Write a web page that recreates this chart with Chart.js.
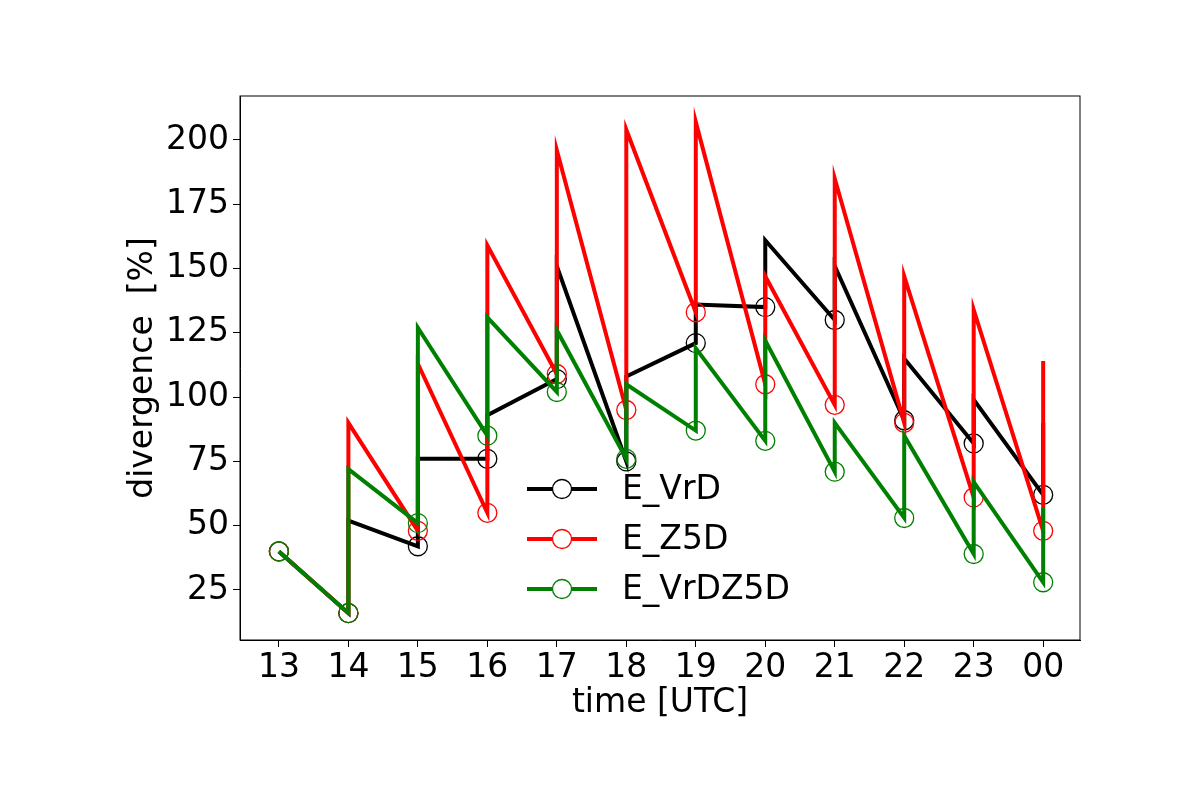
<!DOCTYPE html>
<html><head><meta charset="utf-8">
<script src="https://cdn.jsdelivr.net/npm/chart.js@4"></script>
<style>body{margin:0;background:#fff}</style></head>
<body><div style="width:1200px;height:800px"><canvas id="c"></canvas></div>
<script>
const hours = ['13','14','15','16','17','18','19','20','21','22','23','00'];
// value at each hour (end of previous forecast, marked with circle)
const vrdMark  = [40,16,42,76,107,75,121,135,130,91,82,62];
// value right after the jump at each hour (new forecast start), hours 14..00
const vrdJump  = [52,76,93,151,108,136,161,151,115,99,90];
const z5dMark  = [40,16,48,55,109,95,133,105,97,90,61,48];
const z5dJump  = [90,113,159,196,204,207,147,185,147,134,114];
const vrdz5dMark = [40,16,51,85,102,76,87,83,71,53,39,28];
const vrdz5dJump = [72,127,131,126,105,119,122,90,85,67,57];

function build(mark, jump){
  const pts=[{x:0,y:mark[0],m:true}];
  for(let h=1;h<mark.length;h++){
    pts.push({x:h,y:mark[h],m:true});
    pts.push({x:h,y:jump[h-1],m:false});
  }
  return pts;
}
function ds(label,color,mark,jump,order){
  return {label,data:build(mark,jump),borderColor:color,backgroundColor:'rgba(0,0,0,0)',
    borderWidth:4,pointRadius:c=>c.raw&&c.raw.m?9.5:0,pointBorderColor:color,pointBorderWidth:1.3,
    pointBackgroundColor:'rgba(0,0,0,0)',tension:0,order};
}
const series=[ds('E_VrD','#000000',vrdMark,vrdJump,3),ds('E_Z5D','#ff0000',z5dMark,z5dJump,2),ds('E_VrDZ5D','#008000',vrdz5dMark,vrdz5dJump,1)];
const font={family:'DejaVu Sans',size:33};
const frame={id:'frame',afterDraw(ch){const a=ch.chartArea,x=ch.ctx;x.save();x.strokeStyle='#000';x.lineWidth=1;
  x.strokeRect(a.left,a.top,a.right-a.left,a.bottom-a.top);
  x.font='33px DejaVu Sans';x.fillStyle='#000';x.textAlign='center';x.textBaseline='middle';
  x.fillText('time [UTC]',(a.left+a.right)/2,703);
  x.save();x.translate(143,368);x.rotate(-Math.PI/2);x.fillText('divergence  [%]',0,0);x.restore();
  x.textAlign='left';
  const rows=[[489,series[0]],[539,series[1]],[589,series[2]]];
  for(const [y,s] of rows){x.strokeStyle=s.borderColor;x.lineWidth=4;x.beginPath();x.moveTo(527,y);x.lineTo(597,y);x.stroke();
    x.lineWidth=1.3;x.beginPath();x.arc(562,y,9.5,0,Math.PI*2);x.fillStyle='#fff';x.fill();x.stroke();
    x.fillStyle='#000';x.fillText(s.label,622,y+1);}
  x.restore();}};
new Chart(document.getElementById('c'),{type:'line',data:{datasets:series},
 options:{responsive:true,maintainAspectRatio:false,animation:false,
  layout:{padding:{top:96,right:120,left:0,bottom:0}},
  plugins:{legend:{display:false},tooltip:{enabled:false}},
  scales:{
   x:{type:'linear',min:-0.56,max:11.53,afterFit:s=>{s.height=160},
     afterBuildTicks:s=>{s.ticks=hours.map((_,i)=>({value:i}))},
     ticks:{autoSkip:false,maxRotation:0,color:'#000',font,padding:2,callback:v=>hours[v]},
     grid:{drawOnChartArea:false,tickLength:7,color:'#000'},border:{color:'#000'}},
   y:{min:5.55,max:217.1,afterFit:s=>{s.width=240},
     afterBuildTicks:s=>{s.ticks=[25,50,75,100,125,150,175,200].map(v=>({value:v}))},
     ticks:{color:'#000',font,padding:4},
     grid:{drawOnChartArea:false,tickLength:7,color:'#000'},border:{color:'#000'}}
  }},plugins:[frame]});
</script></body></html>
